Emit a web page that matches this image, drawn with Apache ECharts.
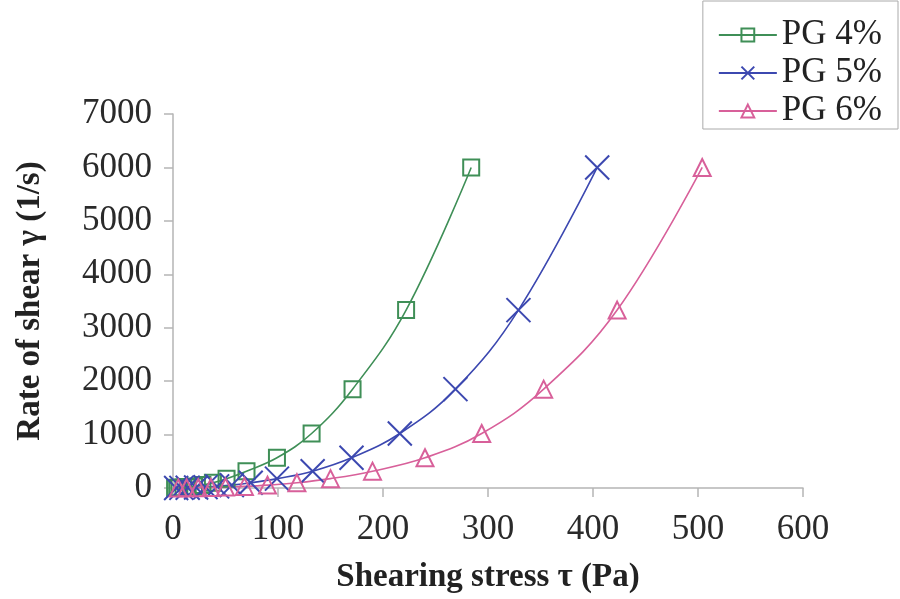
<!DOCTYPE html>
<html>
<head>
<meta charset="utf-8">
<script src="https://cdn.jsdelivr.net/npm/echarts@6/dist/echarts.min.js"></script>
<style>
  html, body { margin: 0; padding: 0; background: #fff; }
  #chart { width: 900px; height: 599px; }
</style>
</head>
<body>
<div id="chart"></div>
<script>
// shear rate (1/s), same rate steps for every sample
const shearRate = [6000, 3330, 1850, 1020, 565, 315, 175, 97, 54, 30, 17, 9, 5, 3, 1.5]
// shearing stress (Pa)
const stressPG4 = [284, 222, 171, 132, 99, 70, 51, 38, 28, 20, 14, 10, 6, 4, 2]
const stressPG5 = [404, 329, 269, 216, 170, 133, 99, 74, 56, 42, 31, 22, 14, 8, 3]
const stressPG6 = [504, 423, 353, 294, 240, 190, 150, 118, 90, 68, 50, 36, 24, 13, 5]
const seriesNames = ['PG 4%', 'PG 5%', 'PG 6%']
const xTicks = [0, 100, 200, 300, 400, 500, 600]
const yTicks = [0, 1000, 2000, 3000, 4000, 5000, 6000, 7000]

const serif = '"Liberation Serif", "Times New Roman", serif'
const pairs = xs => xs.map((x, i) => [x, shearRate[i]])

const chart = echarts.init(document.getElementById('chart'))

// 图表配置
const option = {
  backgroundColor: '#fff',
  animation: false,
  grid: { left: 173, right: 97, top: 114, bottom: 111, outerBoundsMode: 'none' },
  legend: {
    right: 2,
    top: 1,
    orient: 'vertical',
    backgroundColor: '#fff',
    borderColor: '#aaa',
    borderWidth: 1,
    padding: [16, 16, 0, 15],
    itemGap: 2,
    itemWidth: 58,
    itemHeight: 16,
    textStyle: { fontFamily: serif, fontSize: 35, lineHeight: 36, color: '#222' },
    data: seriesNames
  },
  xAxis: {
    type: 'value',
    min: xTicks[0],
    max: xTicks[xTicks.length - 1],
    interval: 100,
    name: 'Shearing stress τ (Pa)',
    nameLocation: 'middle',
    nameGap: 73,
    nameTextStyle: { fontFamily: serif, fontSize: 33, fontWeight: 'bold', color: '#222' },
    axisLine: { show: true, lineStyle: { color: '#b5b5b5', width: 1.5 } },
    axisTick: { show: true, inside: false, length: 9, lineStyle: { color: '#b5b5b5', width: 1.5 } },
    axisLabel: { fontFamily: serif, fontSize: 35, color: '#2a2a2a', margin: 24 },
    splitLine: { show: false }
  },
  yAxis: {
    type: 'value',
    min: yTicks[0],
    max: yTicks[yTicks.length - 1],
    interval: 1000,
    name: 'Rate of shear γ (1/s)',
    nameLocation: 'middle',
    nameGap: 126,
    nameTextStyle: { fontFamily: serif, fontSize: 33, fontWeight: 'bold', color: '#222' },
    axisLine: { show: true, lineStyle: { color: '#b5b5b5', width: 1.5 } },
    axisTick: { show: true, inside: false, length: 9, lineStyle: { color: '#b5b5b5', width: 1.5 } },
    axisLabel: { fontFamily: serif, fontSize: 35, color: '#2a2a2a', margin: 21, formatter: v => String(v) },
    splitLine: { show: false }
  },
  series: [
    {
      name: seriesNames[0],
      type: 'line',
      smooth: 0.4,
      symbol: 'rect',
      symbolSize: 16,
      lineStyle: { color: '#3f8f57', width: 1.6 },
      itemStyle: { color: 'transparent', borderColor: '#3f8f57', borderWidth: 2 },
      data: pairs(stressPG4)
    },
    {
      name: seriesNames[1],
      type: 'line',
      smooth: 0.4,
      symbol: 'path://M0,0L20,20M20,0L0,20',
      symbolSize: 24,
      lineStyle: { color: '#3c48b0', width: 1.6 },
      itemStyle: { color: 'transparent', borderColor: '#3c48b0', borderWidth: 2 },
      data: pairs(stressPG5)
    },
    {
      name: seriesNames[2],
      type: 'line',
      smooth: 0.4,
      symbol: 'triangle',
      symbolSize: 17,
      lineStyle: { color: '#d8609a', width: 1.6 },
      itemStyle: { color: 'transparent', borderColor: '#d8609a', borderWidth: 2 },
      data: pairs(stressPG6)
    }
  ]
}
chart.setOption(option)
</script>
</body>
</html>
